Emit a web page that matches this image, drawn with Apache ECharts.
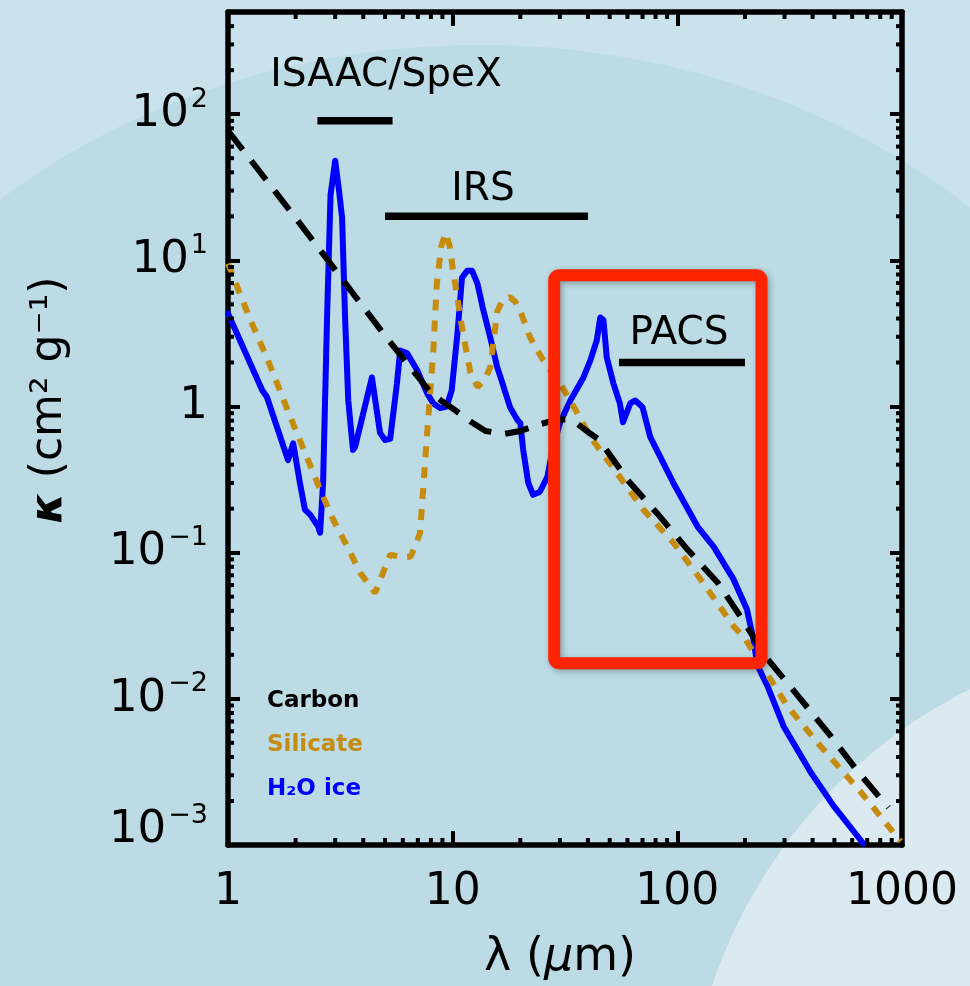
<!DOCTYPE html>
<html>
<head>
<meta charset="utf-8">
<script src="https://cdn.jsdelivr.net/npm/echarts@6/dist/echarts.min.js"></script>
<style>
  html, body { margin: 0; padding: 0; background: #c9e2eb; }
  #chart { width: 970px; height: 986px; }
</style>
</head>
<body>
<div id="chart"></div>
<script>
// Mass absorption coefficient kappa (cm^2 g^-1) versus wavelength (micron)
const carbonLambda = [1, 2, 3, 4, 5, 6, 7, 8, 9, 10, 12, 14, 17, 20, 24, 28, 32, 36, 40, 45, 60, 81, 111, 151, 191, 252, 353, 480, 634, 870];
const carbonKappa  = [77, 19.5, 8.6, 4.8, 3.05, 2.15, 1.6, 1.24, 1.08, 0.97, 0.79, 0.68, 0.65, 0.68, 0.75, 0.8, 0.82, 0.76, 0.67, 0.59, 0.315, 0.187, 0.105, 0.0625, 0.0366, 0.0187, 0.01, 0.0056, 0.0032, 0.0018];

const silicateLambda = [1, 1.25, 1.5, 1.95, 2.3, 2.57, 2.94, 3.4, 3.87, 4.52, 5.27, 6.0, 6.5, 6.8, 7.16, 7.7, 8.2, 8.5, 8.9, 9.3, 9.7, 10.0, 10.5, 11.1, 12.0, 12.9, 13.8, 14.7, 15.8, 16.8, 18.0, 19.0, 20.0, 22.1, 25.3, 30.1, 35.9, 41, 50, 70.6, 96, 127, 178, 197, 309, 433, 653, 985];
const silicateKappa  = [9.5, 4.0, 2.1, 0.76, 0.41, 0.27, 0.168, 0.11, 0.073, 0.053, 0.097, 0.093, 0.094, 0.11, 0.137, 0.66, 2.4, 6.9, 12.5, 15.4, 12.5, 8.9, 5.5, 3.2, 1.7, 1.36, 1.5, 1.85, 4.5, 5.4, 5.6, 5.2, 4.5, 2.97, 2.07, 1.44, 0.9, 0.62, 0.41, 0.197, 0.117, 0.0656, 0.0313, 0.0268, 0.0089, 0.00476, 0.00232, 0.00106];

const iceLambda = [1, 1.42, 1.49, 1.85, 1.95, 2.09, 2.2, 2.32, 2.52, 2.57, 2.65, 2.76, 2.86, 3.0, 3.12, 3.22, 3.32, 3.43, 3.6, 3.68, 4.37, 4.75, 5.0, 5.27, 5.65, 5.84, 6.27, 6.95, 7.7, 8.2, 8.8, 9.4, 9.9, 10.5, 11.0, 11.6, 12.2, 12.9, 13.6, 14.7, 15.8, 16.3, 18.0, 19.4, 20.0, 20.6, 21.7, 22.8, 24.4, 26.4, 28.0, 30.0, 33.4, 38.2, 41.0, 43.8, 45.4, 46.9, 48.5, 51.9, 55.5, 57.3, 61.7, 65, 70, 75.7, 96, 123, 145, 178, 204, 218, 227, 252, 297, 391, 495, 674];
const iceKappa  = [4.33, 1.29, 1.16, 0.43, 0.56, 0.3, 0.197, 0.182, 0.151, 0.137, 0.3, 4.06, 28, 48, 30, 19.5, 4.06, 1.1, 0.505, 0.53, 1.58, 0.66, 0.59, 0.6, 1.44, 2.42, 2.31, 1.77, 1.23, 1.05, 0.975, 1.0, 1.29, 3.16, 7.6, 8.5, 8.5, 6.9, 4.76, 2.97, 1.85, 1.6, 0.99, 0.81, 0.77, 0.505, 0.3, 0.249, 0.26, 0.33, 0.53, 0.77, 1.1, 1.58, 2.07, 2.84, 4.06, 3.9, 2.17, 1.44, 1.05, 0.78, 1.05, 1.1, 0.99, 0.62, 0.3, 0.151, 0.11, 0.0656, 0.041, 0.0256, 0.017, 0.0122, 0.0065, 0.00317, 0.00186, 0.00102];

// Spectral coverage of the instruments
const instrumentNames = ['ISAAC/SpeX', 'IRS', 'PACS'];
const instrumentFrom  = [2.5, 5.0, 55];
const instrumentTo    = [5.4, 40, 200];
const instrumentKappa = [90, 20, 2];

// Highlighted window (lambda range, kappa range)
const windowLambda = [28.3, 237];
const windowKappa  = [0.0175, 7.9];

// Axis ranges and tick values
const xRange = [1, 1000];
const yRange = [0.001, 500];
const xTickLabels = ['1', '10', '100', '1000'];

const legendNames = ['Carbon', 'Silicate', 'H₂O ice'];

// ---- derived values ----
const pairs = (xs, ys) => xs.map((x, i) => [x, ys[i]]);
const minorValues = (lo, hi) => {
  const out = [];
  for (let e = Math.floor(Math.log10(lo)); e <= Math.ceil(Math.log10(hi)); e++) {
    for (let m = 2; m <= 9; m++) {
      const v = m * Math.pow(10, e);
      if (v > lo && v < hi) out.push(v);
    }
  }
  return out;
};

const FONT = 'DejaVu Sans';
const AXIS_W = 5.5;
const MAJOR_LEN = 14;
const MINOR_LEN = 7;
const lineColors = ['#000000', '#c68c10', '#0000ff'];
const labelOffsets = [[31, -45], [-3.5, -26.5], [-3, -29]];

const chart = echarts.init(document.getElementById('chart'), null, { renderer: 'canvas' });

const xAxisBase = {
  type: 'log', logBase: 10, min: xRange[0], max: xRange[1],
  axisLine: { show: true, lineStyle: { color: '#000', width: AXIS_W } },
  axisTick: { show: true, inside: true, length: MAJOR_LEN, lineStyle: { color: '#000', width: 4 } },
  splitLine: { show: false },
  minorTick: { show: false }
};
const yAxisBase = {
  type: 'log', logBase: 10, min: yRange[0], max: yRange[1],
  axisLine: { show: true, lineStyle: { color: '#000', width: AXIS_W } },
  axisTick: { show: true, inside: true, length: MAJOR_LEN - 2, lineStyle: { color: '#000', width: 4 } },
  splitLine: { show: false },
  minorTick: { show: false }
};

const isDecade = v => Math.abs(Math.log10(v) - Math.round(Math.log10(v))) < 1e-6;

const option = {
  animation: false,
  backgroundColor: '#c9e2eb',
  grid: { left: 228, right: 68, top: 12, bottom: 141, containLabel: false },
  xAxis: [
    Object.assign({}, xAxisBase, {
      position: 'bottom',
      axisLabel: {
        show: true, margin: 26, color: '#000', fontFamily: FONT, fontSize: 44,
        formatter: v => {
          if (!isDecade(v)) return '';
          const idx = Math.round(Math.log10(v));
          return xTickLabels[idx] || '';
        }
      }
    }),
    Object.assign({}, xAxisBase, { position: 'top', axisLabel: { show: false } })
  ],
  yAxis: [
    Object.assign({}, yAxisBase, {
      position: 'left',
      axisLabel: {
        show: true, margin: 20, color: '#000', fontFamily: FONT,
        showMaxLabel: false,
        formatter: v => {
          if (!isDecade(v)) return '';
          const e = Math.round(Math.log10(v));
          if (e === 0) return '{b|1}';
          const sup = e < 0 ? '−' + (-e) : String(e);
          const txt = '{b|10}{s|' + sup + '}';
          return Math.abs(v - yRange[0]) < 1e-12 ? txt + '\n{gap|}' : txt;
        },
        rich: {
          b: { fontFamily: FONT, fontSize: 45, lineHeight: 56, color: '#000' },
          s: { fontFamily: FONT, fontSize: 27, lineHeight: 28, color: '#000', verticalAlign: 'top', padding: [0, 0, 0, 2] },
          gap: { fontSize: 1, lineHeight: 30 }
        }
      }
    }),
    Object.assign({}, yAxisBase, { position: 'right', axisLabel: { show: false } })
  ],
  graphic: [
    { type: 'ellipse', z: -90, silent: true, shape: { cx: 480, cy: 640, rx: 713, ry: 595 }, style: { fill: '#bcdbe4' } },
    { type: 'circle', z: -80, silent: true, shape: { cx: 1200, cy: 1150, r: 515 }, style: { fill: '#dbeaf0' } },
    {
      type: 'text', z: 100, x: 50, y: 400, rotation: Math.PI / 2,
      style: {
        text: '{k|κ} (cm² g⁻¹)', fontFamily: FONT, fontSize: 44, fill: '#000', align: 'center', verticalAlign: 'middle',
        rich: { k: { fontFamily: FONT, fontSize: 44, fontWeight: 'bold', fontStyle: 'italic', fill: '#000' } }
      }
    },
    {
      type: 'text', z: 100, x: 560, y: 958,
      style: {
        text: 'λ ({u|μ}m)', fontFamily: FONT, fontSize: 46, fill: '#000', align: 'center', verticalAlign: 'middle',
        rich: { u: { fontFamily: FONT, fontSize: 46, fontStyle: 'italic', fill: '#000' } }
      }
    },
    {
      type: 'group', z: 100, left: 267, top: 690,
      children: legendNames.map((name, i) => ({
        type: 'text', x: 0, y: i * 44,
        style: { text: name, fontFamily: FONT, fontSize: 23, fontWeight: 'bold', fill: lineColors[i] }
      }))
    }
  ],
  series: [
    {
      name: 'H₂O ice', type: 'line', xAxisIndex: 0, yAxisIndex: 0, z: 3,
      data: pairs(iceLambda, iceKappa), showSymbol: false, symbol: 'none', clip: true,
      lineStyle: { color: lineColors[2], width: 6, join: 'round', cap: 'round' }
    },
    {
      name: 'Silicate', type: 'line', xAxisIndex: 0, yAxisIndex: 0, z: 4,
      data: pairs(silicateLambda, silicateKappa), showSymbol: false, symbol: 'none', clip: true,
      lineStyle: { color: lineColors[1], width: 6, type: [11, 10], cap: 'butt' }
    },
    {
      name: 'Carbon', type: 'line', xAxisIndex: 0, yAxisIndex: 0, z: 5,
      data: pairs(carbonLambda, carbonKappa), showSymbol: false, symbol: 'none', clip: true,
      lineStyle: { color: lineColors[0], width: 6, type: [24, 14], cap: 'butt' }
    },
    {
      // instrument coverage bars with their names
      type: 'custom', xAxisIndex: 0, yAxisIndex: 0, z: 6, clip: false,
      data: instrumentNames.map((n, i) => [instrumentFrom[i], instrumentTo[i], instrumentKappa[i], i]),
      encode: { x: [0, 1], y: 2 },
      renderItem: (params, api) => {
        const i = api.value(3);
        const a = api.coord([api.value(0), api.value(2)]);
        const b = api.coord([api.value(1), api.value(2)]);
        const cx = (a[0] + b[0]) / 2;
        return {
          type: 'group',
          children: [
            { type: 'line', shape: { x1: a[0], y1: a[1], x2: b[0], y2: b[1] }, style: { stroke: '#000', lineWidth: 7.5 } },
            {
              type: 'text', x: cx + labelOffsets[i][0], y: a[1] + labelOffsets[i][1],
              style: { text: instrumentNames[i], fontFamily: FONT, fontSize: 39, fill: '#000', align: 'center', verticalAlign: 'middle' }
            }
          ]
        };
      }
    },
    {
      // highlighted wavelength window
      type: 'custom', xAxisIndex: 0, yAxisIndex: 0, z: 7, clip: false,
      data: [[windowLambda[0], windowLambda[1], windowKappa[0], windowKappa[1]]],
      encode: { x: [0, 1], y: [2, 3] },
      renderItem: (params, api) => {
        const p0 = api.coord([api.value(0), api.value(3)]);
        const p1 = api.coord([api.value(1), api.value(2)]);
        return {
          type: 'rect',
          shape: { x: p0[0], y: p0[1], width: p1[0] - p0[0], height: p1[1] - p0[1], r: 5 },
          style: {
            fill: 'none', stroke: '#ff2400', lineWidth: 12,
            shadowBlur: 6, shadowColor: 'rgba(0,0,0,0.3)', shadowOffsetX: 2, shadowOffsetY: 2
          }
        };
      }
    },
    {
      // minor ticks along bottom and top axes
      type: 'custom', xAxisIndex: 0, yAxisIndex: 0, z: 8, clip: false,
      data: minorValues(xRange[0], xRange[1]).map(v => [v, 1]),
      encode: { x: 0, y: 1 },
      renderItem: (params, api) => {
        const x = api.coord([api.value(0), 1])[0];
        const cs = params.coordSys;
        const yb = cs.y + cs.height, yt = cs.y;
        const st = { stroke: '#000', lineWidth: 4 };
        return {
          type: 'group',
          children: [
            { type: 'line', shape: { x1: x, y1: yb, x2: x, y2: yb - MINOR_LEN }, style: st },
            { type: 'line', shape: { x1: x, y1: yt, x2: x, y2: yt + MINOR_LEN }, style: st }
          ]
        };
      }
    },
    {
      // minor ticks along left and right axes
      type: 'custom', xAxisIndex: 0, yAxisIndex: 0, z: 8, clip: false,
      data: minorValues(yRange[0], yRange[1]).map(v => [10, v]),
      encode: { x: 0, y: 1 },
      renderItem: (params, api) => {
        const y = api.coord([10, api.value(1)])[1];
        const cs = params.coordSys;
        const xl = cs.x, xr = cs.x + cs.width;
        const st = { stroke: '#000', lineWidth: 4 };
        return {
          type: 'group',
          children: [
            { type: 'line', shape: { x1: xl, y1: y, x2: xl + MINOR_LEN - 1, y2: y }, style: st },
            { type: 'line', shape: { x1: xr, y1: y, x2: xr - MINOR_LEN + 1, y2: y }, style: st }
          ]
        };
      }
    }
  ]
};

chart.setOption(option);
</script>
</body>
</html>
